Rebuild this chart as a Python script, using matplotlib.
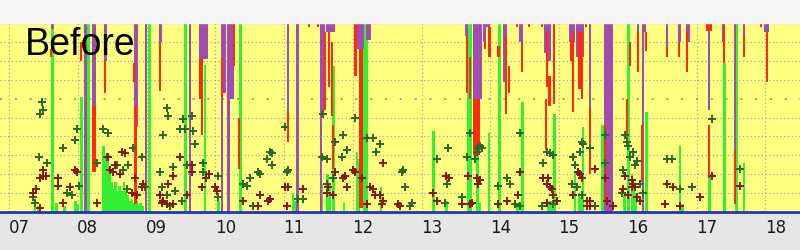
import matplotlib
matplotlib.use('Agg')
import matplotlib.pyplot as plt
import matplotlib.transforms as mtransforms
from matplotlib.patches import Rectangle

# hours of day shown on the x axis
hours = list(range(7, 19))
hour_labels = ['%02d' % h for h in hours]

# purple bars hanging from the top (t in hours, lower end in %)
purple_t = [7.63, 8.11, 8.22, 8.25, 8.40, 8.83, 8.86, 8.99, 9.20, 9.63,
            9.78, 9.81, 9.84, 9.87, 10.10, 10.13, 10.19, 10.22, 10.25,
            11.06, 11.20, 11.54, 11.57, 11.63, 11.66, 11.69, 11.72,
            12.05, 12.08, 12.11, 12.14, 12.21, 12.24, 13.65,
            13.77, 13.80, 13.83, 13.86, 13.92, 13.95, 13.98, 14.20, 14.23,
            14.43, 14.46, 14.80, 14.83, 14.86, 15.16, 15.19, 15.22,
            15.26, 15.29, 15.32, 15.35, 15.45, 15.68, 15.71, 15.74, 15.77,
            16.15, 16.22, 16.25, 16.57, 16.75, 16.86, 16.89, 17.18, 17.39,
            17.56, 17.69, 18.00, 18.03]
purple_lo = [97, 0, 56, 56, 80, 45, 45, 0, 90, 0,
             81, 81, 81, 81, 0, 63, 0, 60, 60,
             54, 0, 0, 54, 95, 95, 95, 95,
             86, 86, 86, 86, 91, 91, 93,
             60, 60, 60, 60, 90, 98, 98, 69, 69,
             90, 90, 84, 84, 80, 90, 90, 90,
             82, 82, 82, 82, 55, 0, 0, 0, 0,
             95, 0, 95, 88, 90, 90, 90, 54, 90,
             4, 93, 95, 95]

# red segments hanging below / beside the purple ones (t, top, bottom in %)
red_t = [7.61, 8.05, 8.22, 8.25, 8.40, 8.82, 8.84, 9.20, 9.78, 9.81,
         10.10, 10.27, 10.35, 11.06, 11.36, 11.49, 11.60, 11.65, 11.70,
         11.71, 12.04, 12.10, 12.13, 13.66, 13.70, 13.77, 13.80, 13.83,
         13.92, 13.99, 14.12, 14.23, 14.27, 14.39, 14.46, 14.56, 14.75,
         14.81, 14.82, 14.86, 14.93, 15.17, 15.20, 15.29, 15.32, 15.33,
         15.39, 15.45, 15.67, 15.99, 16.03, 16.15, 16.21, 16.27, 16.57,
         16.75, 16.86, 17.15, 17.18, 17.18, 17.21, 17.40, 17.56, 17.69,
         17.94, 18.02]
red_hi = [86, 90, 56, 56, 80, 79, 56, 90, 81, 81,
          81, 100, 50, 54, 100, 100, 95, 95, 90,
          46, 100, 86, 86, 93, 82, 60, 60, 60,
          90, 98, 88, 93, 77, 100, 90, 100, 100,
          60, 95, 72, 100, 91, 95, 95, 95, 95,
          100, 55, 46, 60, 90, 95, 46, 95, 88,
          90, 95, 100, 100, 46, 100, 100, 33, 93,
          100, 95]
red_lo = [82, 80, 21, 21, 63, 69, 4, 64, 60, 41,
          61, 77, 23, 37, 98, 98, 54, 66, 51,
          23, 72, 2, 2, 63, 60, 30, 30, 30,
          86, 82, 82, 52, 63, 98, 74, 98, 98,
          33, 66, 56, 57, 80, 53, 65, 65, 60,
          98, 20, 5, 39, 77, 74, 16, 85, 82,
          82, 74, 96, 96, 18, 96, 79, 4, 82,
          98, 69]

# green bars rising from the bottom (t, height in %)
green_t = [7.38, 7.42, 7.69, 7.81, 7.97, 8.00, 7.63, 8.05, 8.16,
           8.37, 8.40, 8.43, 8.46, 8.49, 8.52, 8.55, 8.58, 8.61, 8.64,
           8.67, 8.70, 8.73, 8.76, 8.79, 8.82, 8.85, 8.88, 8.91, 8.94,
           9.04, 9.57, 9.85, 10.05, 10.37, 11.13, 11.17, 11.55, 11.63, 11.67,
           11.72, 11.87, 12.06, 12.09, 12.17, 12.20, 12.41, 13.17, 13.36,
           13.68, 13.72, 13.81, 13.85, 13.98, 14.13, 14.40, 14.47, 14.84,
           14.87, 14.90, 14.93, 15.23, 15.29, 15.32, 15.35, 15.63, 15.95,
           16.01, 16.06, 16.09, 16.12, 16.22, 16.27, 16.76, 16.80, 17.19,
           17.41, 17.58, 17.69]
green_hi = [5, 3, 5, 3, 6, 4, 100, 61, 100,
            35, 30, 29, 22, 16, 12, 16, 11, 14, 11,
            16, 11, 9, 6, 7, 5, 6, 4, 5, 3,
            100, 100, 78, 6, 100, 10, 6, 15, 20, 15,
            77, 5, 32, 28, 100, 100, 13, 43, 6,
            100, 100, 100, 5, 42, 100, 5, 58, 6,
            6, 6, 52, 21, 10, 8, 45, 46, 9,
            100, 20, 14, 10, 12, 53, 35, 4, 20,
            79, 100, 26]

# dark green markers (t, %)
gm_t = [7.48, 7.49, 7.45, 9.30, 9.31, 9.53, 9.66,
        7.99, 7.96, 7.79, 7.44, 7.55, 8.02, 7.84, 7.92, 7.38, 7.35,
        8.37, 8.44, 8.28, 8.43, 8.57, 8.66, 8.73, 8.80, 8.93, 8.72, 8.98,
        9.24, 9.49, 9.56, 9.39, 9.20, 9.23, 9.30, 9.41, 9.34, 9.52, 9.68,
        9.71, 9.59, 9.66,
        9.82, 9.82, 10.04, 10.04, 10.75, 10.83, 10.83, 10.80, 10.65, 10.62,
        10.46, 10.40, 10.51, 11.06, 11.04, 11.01, 11.20, 11.74, 11.86,
        11.55, 11.63, 11.84, 11.92, 12.21, 12.29, 12.40, 12.34, 11.63,
        11.71, 11.28, 10.55, 11.57, 12.03,
        12.73, 12.72, 12.76, 12.86, 12.83, 13.39, 13.23, 13.37, 13.34,
        13.59, 13.71, 13.66, 13.78, 13.81, 13.85, 13.82, 13.88, 14.11,
        14.24, 14.29, 14.36, 14.43, 14.43, 14.77, 14.83, 14.87, 14.91,
        14.75, 14.91, 15.20, 15.23, 15.31, 15.33, 15.35, 15.45, 15.19,
        15.26, 15.33, 15.52,
        15.67, 15.67, 15.96, 15.99, 16.00, 16.08, 16.03, 16.13, 16.11,
        15.93, 16.18, 16.22, 15.92, 16.57, 16.64, 16.76, 16.93, 17.63, 17.23]
gm_v = [58, 54, 52, 55, 51, 49, 51,
        44, 38, 34, 29, 26, 14, 10, 9, 5, 8,
        44, 42, 26, 29, 25, 22, 25, 34, 29, 12, 13,
        41, 44, 44, 24, 21, 13, 9, 11, 3, 6, 43,
        36, 25, 21,
        26, 21, 19, 8, 28, 25, 31, 32, 20, 21,
        14, 15, 18, 22, 21, 45, 7, 37, 41,
        29, 28, 29, 33, 39, 39, 36, 32, 15,
        18, 7, 3, 52, 50,
        22, 21, 13, 5, 3, 34, 28, 15, 5,
        8, 42, 29, 28, 32, 35, 34, 34, 14,
        18, 15, 4, 42, 3, 26, 32, 31, 30,
        3, 4, 29, 25, 32, 37, 36, 34, 15,
        13, 9, 3,
        41, 26, 41, 37, 35, 32, 29, 27, 25,
        22, 15, 10, 10, 28, 28, 12, 13, 23, 49]

# dark red markers (t, %)
rm_t = [7.49, 7.45, 7.49, 7.54, 7.39, 7.35, 7.45, 7.71, 7.71, 7.89, 7.79,
        7.96, 7.99, 8.28, 8.44, 8.47, 8.54, 8.64, 8.69, 8.61, 8.51, 8.83,
        8.79, 8.86, 8.93, 8.95, 9.20, 9.24, 9.23, 9.31, 9.39, 9.49, 9.59,
        9.66, 9.66, 9.39, 9.30,
        9.87, 9.91, 10.00, 9.81, 10.03, 10.40, 10.65, 10.77, 10.80, 10.62,
        11.01, 11.06, 11.28, 11.04, 11.64, 11.71, 11.63, 11.74, 11.86,
        11.89, 12.00, 11.92, 12.03, 12.25, 12.29, 12.32, 12.40, 12.44,
        12.44, 12.21, 12.43, 12.66, 12.13,
        12.69, 13.35, 13.40, 13.16, 13.23, 13.59, 13.68, 13.71, 13.81,
        13.85, 13.82, 13.73, 14.11, 14.24, 14.40, 14.43, 14.77, 14.84,
        14.83, 14.87, 14.90, 14.91, 14.83, 14.97, 15.28, 15.31, 15.33,
        15.20, 15.41, 15.45, 15.52, 15.45, 15.41,
        15.67, 15.70, 15.79, 15.96, 16.06, 16.08, 16.06, 15.93, 16.11,
        16.00, 16.18, 16.13, 16.57, 16.66, 16.54, 16.76, 17.05, 17.23, 17.63]
rm_v = [22, 18, 19, 19, 12, 10, 2, 18, 14, 13, 5,
        22, 21, 5, 29, 22, 25, 32, 31, 20, 21, 18,
        10, 9, 13, 15, 9, 6, 5, 15, 19, 29, 9,
        25, 21, 4, 4,
        18, 20, 13, 13, 11, 6, 9, 6, 7, 3,
        13, 13, 12, 3, 13, 9, 10, 21, 18,
        19, 22, 13, 21, 13, 12, 9, 9, 6,
        26, 4, 4, 4, 18,
        3, 19, 18, 10, 6, 4, 19, 4, 18,
        17, 15, 5, 4, 6, 9, 21, 18, 18,
        15, 13, 12, 9, 5, 6, 21, 20, 18,
        9, 6, 6, 23, 3, 3,
        18, 6, 3, 19, 17, 15, 13, 12, 13,
        9, 6, 8, 15, 13, 4, 3, 8, 19, 14]

c_bg = '#ffff80'
c_purple = '#a04cb0'
c_red = '#ff2a10'
c_green = '#33f033'
c_dgreen = '#2d6a2a'
c_dred = '#8a1a1a'
bw = 0.038

fig = plt.figure(figsize=(8, 2.5), dpi=100, facecolor='#e6e6e6')
fig.patches.append(Rectangle((0, 0.908), 1, 0.092, transform=fig.transFigure,
                             color='#f7f7f7', zorder=0))
ax = fig.add_axes([0, 0.152, 1, 0.756])
ax.set_facecolor(c_bg)

ax.bar(green_t, green_hi, width=bw, color=c_green, linewidth=0, zorder=2)
ax.bar(purple_t, [100 - v for v in purple_lo], bottom=purple_lo, width=bw,
       color=c_purple, linewidth=0, zorder=3)
ax.bar(red_t, [h - l for h, l in zip(red_hi, red_lo)], bottom=red_lo,
       width=bw * 0.85, color=c_red, linewidth=0, zorder=4)
ax.plot(gm_t, gm_v, 'P', color=c_dgreen, markersize=5.5, markeredgewidth=0,
        zorder=5)
ax.plot(rm_t, rm_v, 'P', color=c_dred, markersize=5.5, markeredgewidth=0,
        zorder=5)

ax.set_xlim(6.869, 18.505)
ax.set_ylim(0, 100)

# dotted grid
for h in hours:
    ax.axvline(h, color='#aaa898', lw=0.9, ls=(0, (1, 2)), zorder=1)
for v in range(10, 100, 10):
    if v == 60:
        ax.axhline(v, color='#a09880', lw=1.3, ls=(0, (1.2, 7)), zorder=1)
    else:
        ax.axhline(v, color='#aaa898', lw=0.9, ls=(0, (1, 2)), zorder=1)

ax.set_yticks([])
ax.set_xticks(hours)
ax.set_xticklabels(hour_labels, fontsize=12, color='#1a1a1a',
                   family='DejaVu Sans')
ax.tick_params(axis='x', length=0, pad=5)
offset = mtransforms.ScaledTranslation(0.1, 0, fig.dpi_scale_trans)
for lbl in ax.get_xticklabels():
    lbl.set_transform(lbl.get_transform() + offset)

for s in ['left', 'right']:
    ax.spines[s].set_visible(False)
ax.spines['bottom'].set_color('#2233bb')
ax.spines['bottom'].set_linewidth(2)
ax.spines['bottom'].set_zorder(6)
ax.spines['top'].set_color('#b8b8b8')
ax.spines['top'].set_linewidth(1)

fig.text(0.031, 0.78, 'Before', fontsize=27, family='Liberation Sans',
         color='black', va='baseline')

fig.savefig('out.png', dpi=100, facecolor=fig.get_facecolor())
